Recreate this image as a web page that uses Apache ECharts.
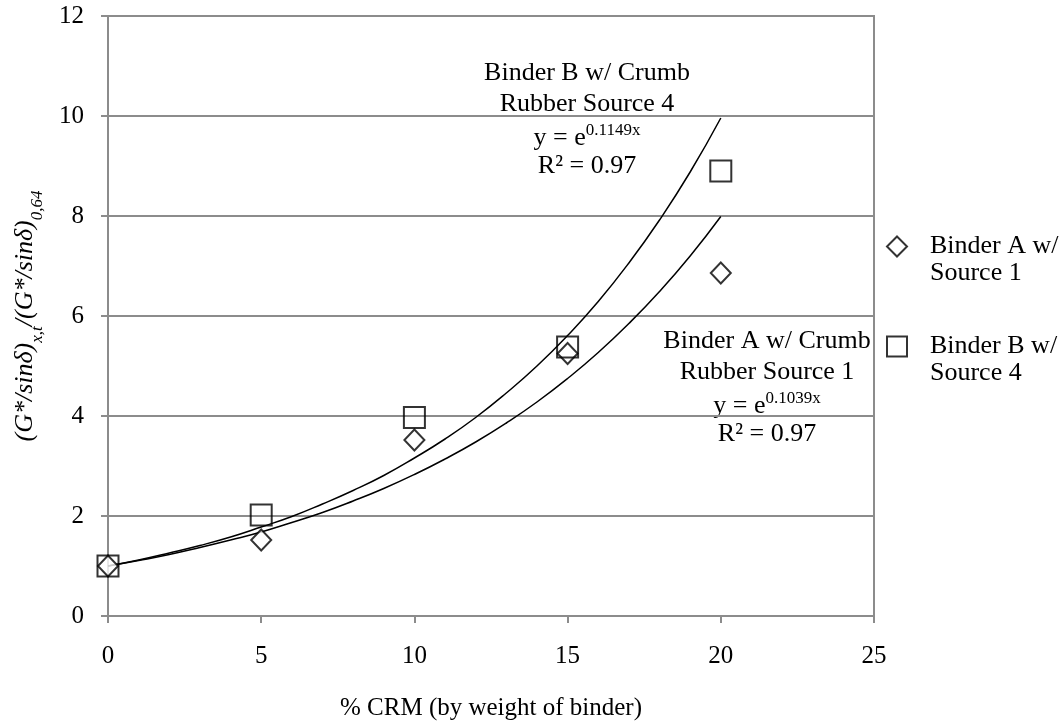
<!DOCTYPE html>
<html>
<head>
<meta charset="utf-8">
<script src="https://cdn.jsdelivr.net/npm/echarts@6/dist/echarts.min.js"></script>
<style>
  html, body { margin: 0; padding: 0; background: #fff; }
  #chart { width: 1064px; height: 727px; }
</style>
</head>
<body>
<div id="chart"></div>
<script>
// measured points
var binderA = [[0, 1.0], [5, 1.52], [10, 3.52], [15, 5.25], [20, 6.86]];
var binderB = [[0, 1.0], [5, 2.02], [10, 3.97], [15, 5.38], [20, 8.9]];

// trend lines, x = 0..20
var trendX = [0, 1, 2, 3, 4, 5, 6, 7, 8, 9, 10, 11, 12, 13, 14, 15, 16, 17, 18, 19, 20];
var trendA = [1, 1.11, 1.23, 1.37, 1.52, 1.68, 1.87, 2.07, 2.30, 2.55, 2.83, 3.14, 3.48, 3.86, 4.28, 4.75, 5.27, 5.85, 6.49, 7.20, 7.99];
var trendB = [1, 1.12, 1.26, 1.41, 1.58, 1.78, 1.99, 2.24, 2.51, 2.81, 3.16, 3.54, 3.97, 4.46, 5.00, 5.61, 6.29, 7.06, 7.92, 8.88, 9.96];

var legendNames = ['Binder A w/\nSource 1', 'Binder B w/\nSource 4'];

var font = 'Liberation Serif';
var gridColor = '#8c8c8c';

function pairs(xs, ys) {
  var out = [];
  for (var i = 0; i < xs.length; i++) out.push([xs[i], ys[i]]);
  return out;
}

var myChart = echarts.init(document.getElementById('chart'));

var supRich = {
  t: { fontFamily: font, fontSize: 26, lineHeight: 31, verticalAlign: 'bottom' },
  p: { fontFamily: font, fontSize: 17, lineHeight: 17, verticalAlign: 'top', padding: [2, 0, 0, 0] }
};

var option = {
  backgroundColor: '#fff',
  animation: false,
  textStyle: { fontFamily: font, color: '#000' },
  grid: {
    left: 108, right: 190, top: 16, bottom: 111,
    show: true, borderColor: gridColor, borderWidth: 2
  },
  xAxis: {
    type: 'value',
    min: 0, max: 25, interval: 5,
    name: '% CRM (by weight of binder)',
    nameLocation: 'middle',
    nameGap: 80,
    nameTextStyle: { fontFamily: font, fontSize: 25, color: '#000' },
    axisLine: { show: true, onZero: false, lineStyle: { color: gridColor, width: 2 } },
    axisTick: { show: true, length: 7, lineStyle: { color: gridColor, width: 2 } },
    axisLabel: { margin: 28, fontFamily: font, fontSize: 25, color: '#000' },
    splitLine: { show: false }
  },
  yAxis: {
    type: 'value',
    min: 0, max: 12, interval: 2,
    name: '{i|(G*/sinδ)}{s|x,t}{i|/(G*/sinδ)}{s|0,64}',
    nameLocation: 'middle',
    nameRotate: 90,
    nameGap: 62,
    nameTextStyle: {
      rich: {
        i: { fontFamily: font, fontStyle: 'italic', fontSize: 26, color: '#000', lineHeight: 34, verticalAlign: 'top' },
        s: { fontFamily: font, fontStyle: 'italic', fontSize: 17, color: '#000', lineHeight: 34, verticalAlign: 'bottom' }
      }
    },
    axisLine: { show: true, lineStyle: { color: gridColor, width: 2 } },
    axisTick: { show: true, length: 7, lineStyle: { color: gridColor, width: 2 } },
    axisLabel: { margin: 24, fontFamily: font, fontSize: 25, color: '#000' },
    splitLine: { show: true, lineStyle: { color: gridColor, width: 2 } }
  },
  legend: {
    orient: 'vertical',
    left: 886, top: 206,
    padding: 0,
    itemWidth: 20, itemHeight: 20,
    itemGap: 19,
    data: legendNames,
    // blank first line keeps the marker level with the first text line
    formatter: function (name) { return '{e| }\n' + name; },
    textStyle: {
      fontFamily: font, fontSize: 26, color: '#000', lineHeight: 27,
      padding: [0, 0, 0, 18],
      rich: { e: { fontSize: 26, lineHeight: 27 } }
    }
  },
  graphic: [
    {
      type: 'text',
      style: {
        x: 587, y: 58, textAlign: 'center', textVerticalAlign: 'top',
        text: 'Binder B w/ Crumb\nRubber Source 4\n{t|y = e}{p|0.1149x}\nR² = 0.97',
        font: '26px ' + font, fill: '#000', lineHeight: 31,
        rich: supRich
      }
    },
    {
      type: 'text',
      style: {
        x: 767, y: 326, textAlign: 'center', textVerticalAlign: 'top',
        text: 'Binder A w/ Crumb\nRubber Source 1\n{t|y = e}{p|0.1039x}\nR² = 0.97',
        font: '26px ' + font, fill: '#000', lineHeight: 31,
        rich: supRich
      }
    }
  ],
  series: [
    {
      name: 'trendB',
      type: 'line',
      data: pairs(trendX, trendB),
      smooth: true,
      showSymbol: false,
      lineStyle: { color: '#000', width: 1.5 },
      z: 2
    },
    {
      name: 'trendA',
      type: 'line',
      data: pairs(trendX, trendA),
      smooth: true,
      showSymbol: false,
      lineStyle: { color: '#000', width: 1.5 },
      z: 2
    },
    {
      name: legendNames[0],
      type: 'scatter',
      data: binderA,
      symbol: 'diamond',
      symbolSize: [20, 21],
      itemStyle: { color: '#fff', borderColor: '#000', borderWidth: 2 },
      z: 3
    },
    {
      name: legendNames[1],
      type: 'scatter',
      data: binderB,
      symbol: 'rect',
      symbolSize: [21, 21],
      itemStyle: { color: 'rgba(255,255,255,0)', borderColor: '#000', borderWidth: 2 },
      z: 4
    }
  ]
};

myChart.setOption(option);
</script>
</body>
</html>
